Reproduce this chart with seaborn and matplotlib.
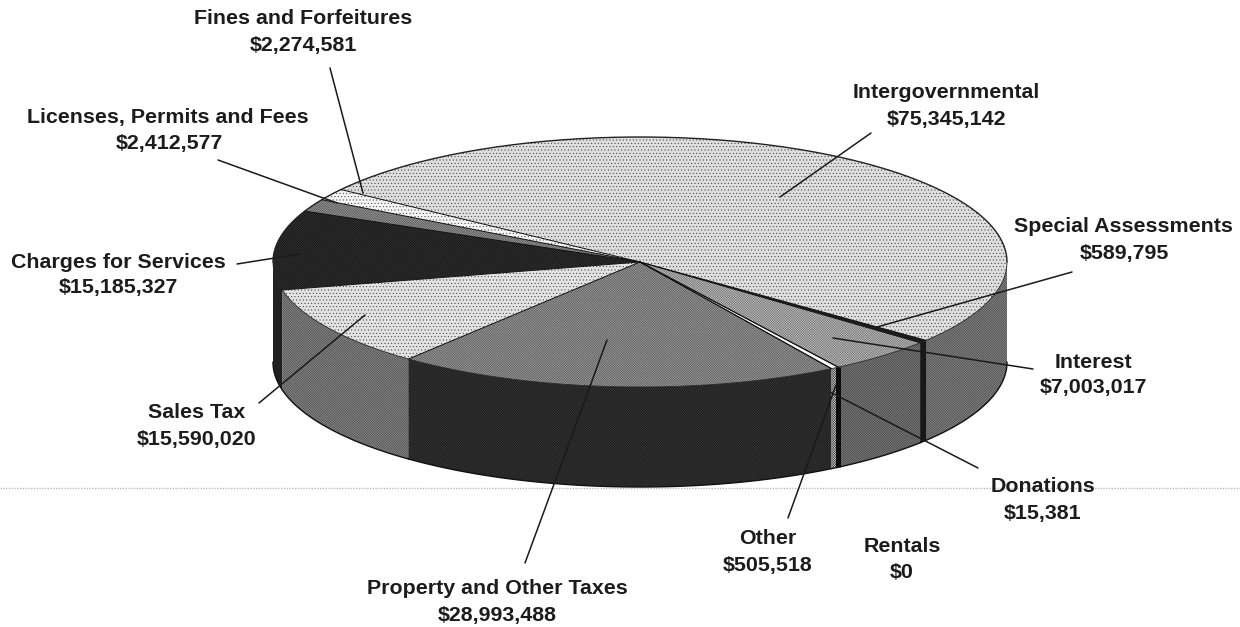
import numpy as np
import matplotlib
matplotlib.use("Agg")
import matplotlib.pyplot as plt
import seaborn as sns

# Revenue sources, in drawing order round the pie
sources = ["Intergovernmental", "Fines and Forfeitures", "Licenses, Permits and Fees",
           "Charges for Services", "Sales Tax", "Property and Other Taxes", "Rentals",
           "Other", "Donations", "Interest", "Special Assessments"]
amounts = [75345142, 2274581, 2412577, 15185327, 15590020, 28993488, 0,
           505518, 15381, 7003017, 589795]

# Fill tones for the top face and the outer wall of each slice
top_tones = ["#dedede", "#f4f4f4", "#9c9c9c", "#141414", "#e2e2e2", "#a0a0a0", "#808080",
             "#f8f8f8", "#101010", "#c6c6c6", "#1c1c1c"]
wall_tones = ["#8a8a8a", "#8a8a8a", "#8a8a8a", "#101010", "#8e8e8e", "#181818", "#808080",
              "#d4d4d4", "#0a0a0a", "#808080", "#080808"]
top_hatch = [".....", ".....", "xxxxxxxxxxxxxx", "xxxxxxxxxxxxxx", ".....", "xxxxxxxxxxxxxx", "",
             "", "", "xxxxxxxxxxxxxx", ""]
wall_hatch = "xxxxxxxxxxxxxx"

# Pie geometry on the page, in pixels
W, H = 1240, 627
CX, CY, RX, RY, DEPTH = 640, 262, 367, 125, 100
START = -38.8

sns.set_theme(style="white")
plt.rcParams["font.family"] = ["Liberation Sans", "DejaVu Sans"]
plt.rcParams["hatch.linewidth"] = 0.3

fig = plt.figure(figsize=(W / 100, H / 100), dpi=100, facecolor="white")
ax = fig.add_axes([0, 0, 1, 1])


def to_data(x, y):
    """Convert a page position in pixels to pie units."""
    return (x - CX) / RX, (CY - y) / RY


def grain_colour(tone):
    """Colour of the halftone grain laid over a fill tone."""
    level = int(tone[1:3], 16)
    if level < 0x50:
        grain = level + 0x22
    elif level > 0xd0:
        grain = 0x30
    else:
        grain = int(level * 0.55)
    return f"#{grain:02x}{grain:02x}{grain:02x}"


# Scanner streak across the page
ax.plot(*zip(to_data(0, 488), to_data(W, 488)), color="#bcbcbc", lw=1.0, ls=(0, (1, 1)), zorder=1)

# Outer wall: only the front half of the rim can be seen
fractions = np.array(amounts) / sum(amounts)
edges = START + 360 * np.concatenate([[0], np.cumsum(fractions)])
d = DEPTH / RY
for a0, a1, tone in zip(edges[:-1], edges[1:], wall_tones):
    for shift in (0, -360, 360):
        lo, hi = max(a0 + shift, 180), min(a1 + shift, 360)
        if hi <= lo:
            continue
        t = np.radians(np.linspace(lo, hi, 80))
        xs = np.r_[np.cos(t), np.cos(t[::-1])]
        ys = np.r_[np.sin(t), np.sin(t[::-1]) - d]
        ax.fill(xs, ys, facecolor=tone, edgecolor=grain_colour(tone), hatch=wall_hatch, lw=0, zorder=2)
        ax.plot(np.cos(t), np.sin(t) - d, color="#111111", lw=1.0, zorder=3)

# The thin Donations slice shows as a dark band down the wall
t = np.radians(edges[sources.index("Donations")])
ax.plot([np.cos(t)] * 2, [np.sin(t), np.sin(t) - d], color="#0c0c0c", lw=3.6,
        solid_capstyle="butt", zorder=3)

# Top face
wedges, _ = ax.pie(amounts, startangle=START, counterclock=True, colors=top_tones,
                   wedgeprops=dict(lw=0), radius=1)
for w, tone, h in zip(wedges, top_tones, top_hatch):
    w.set_zorder(4)
    w.set_edgecolor(grain_colour(tone))
    w.set_hatch(h)
    w.set_linewidth(0)
t = np.radians(np.linspace(0, 180, 200))
ax.plot(np.cos(t), np.sin(t), color="#222222", lw=1.0, zorder=5)
t = np.radians(np.linspace(180, 360, 200))
ax.plot(np.cos(t), np.sin(t), color="#222222", lw=0.6, zorder=5)
for a in edges[:-1]:
    r = np.radians(a)
    ax.plot([0, np.cos(r)], [0, np.sin(r)], color="#111111", lw=0.7, zorder=5)

ax.set_aspect("auto")
ax.set_xlim((0 - CX) / RX, (W - CX) / RX)
ax.set_ylim((CY - H) / RY, CY / RY)
ax.axis("off")

# Label text positions and leader lines on the page, in pixels
name_xy = {"Fines and Forfeitures": (303, 18), "Licenses, Permits and Fees": (168, 117),
           "Charges for Services": (118, 262), "Sales Tax": (197, 413),
           "Property and Other Taxes": (497, 588), "Other": (768, 539), "Rentals": (902, 547),
           "Donations": (1043, 487), "Interest": (1093, 362), "Special Assessments": (1123, 227),
           "Intergovernmental": (946, 92)}
value_xy = {"Fines and Forfeitures": (303, 45), "Licenses, Permits and Fees": (169, 143),
            "Charges for Services": (118, 288), "Sales Tax": (197, 440),
            "Property and Other Taxes": (497, 615), "Other": (768, 566), "Rentals": (902, 573),
            "Donations": (1043, 514), "Interest": (1093, 388), "Special Assessments": (1124, 253),
            "Intergovernmental": (946, 119)}
leaders = [((330, 68), (363, 193)), ((218, 160), (337, 203)), ((237, 264), (300, 254)),
           ((259, 403), (365, 315)), ((525, 563), (607, 340)), ((788, 518), (836, 385)),
           ((978, 468), (830, 392)), ((1033, 369), (833, 338)), ((1072, 272), (877, 327)),
           ((871, 133), (780, 197))]

for p, q in leaders:
    a, b = to_data(*p), to_data(*q)
    ax.plot([a[0], b[0]], [a[1], b[1]], color="#1a1a1a", lw=1.1, zorder=6)

for name, amount in zip(sources, amounts):
    nx, ny = to_data(*name_xy[name])
    vx, vy = to_data(*value_xy[name])
    ax.text(nx, ny, name, ha="center", va="center", fontsize=15.4, fontweight="bold",
            color="#1c1c1c", zorder=7)
    ax.text(vx, vy, f"${amount:,}", ha="center", va="center", fontsize=15.4, fontweight="bold",
            color="#1c1c1c", zorder=7)

fig.savefig("out.png", dpi=100, facecolor="white")
